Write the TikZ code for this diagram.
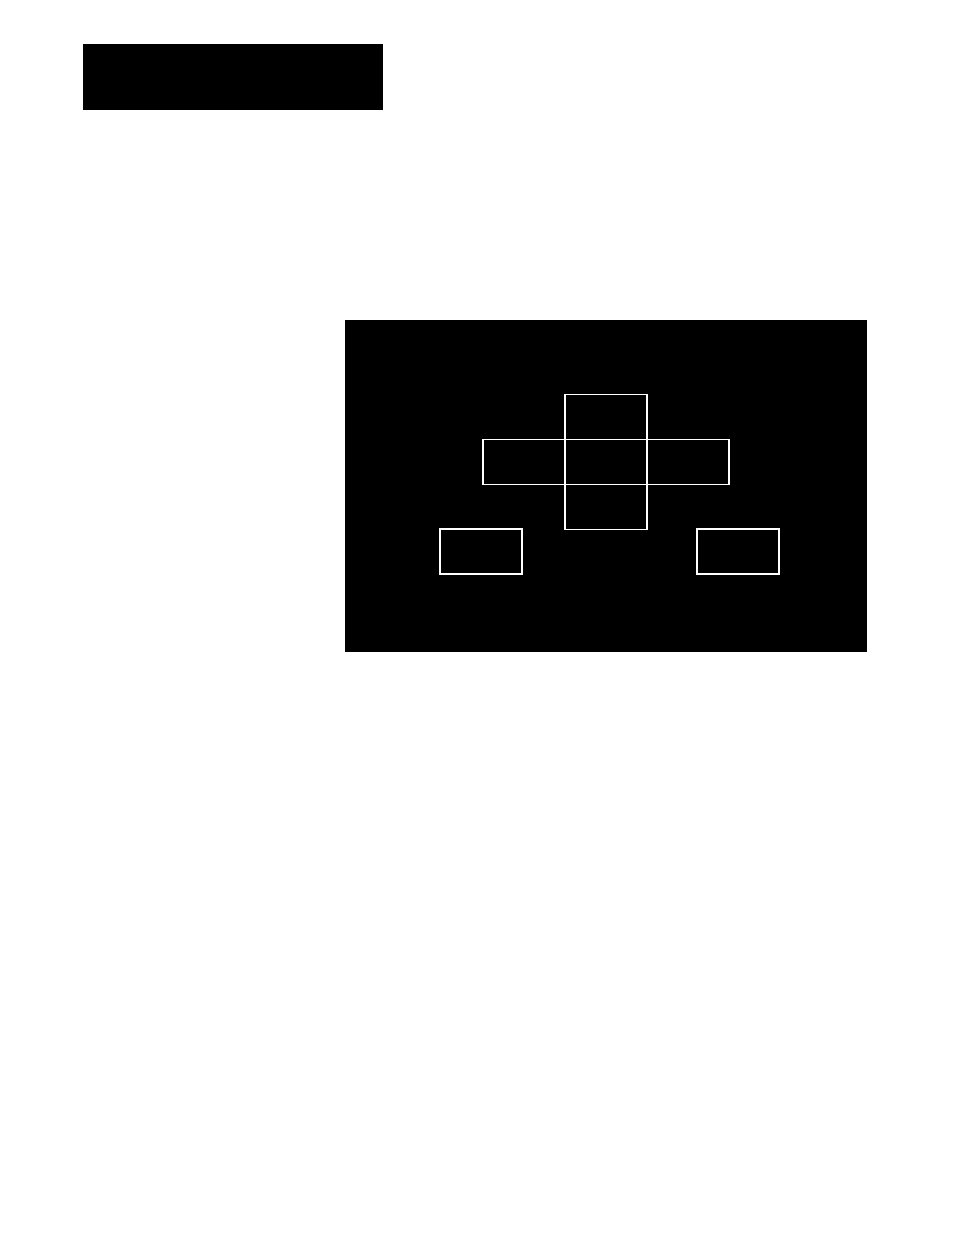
\documentclass[tikz,border=0pt]{standalone}
\usepackage{tikz}
\usetikzlibrary{positioning}
\tikzset{C/.style={draw=white, line width=1.5pt, inner sep=0pt, outer sep=0pt, minimum width=82pt, minimum height=45pt}}
\tikzset{P/.style={fill=black, draw=none}}

\begin{document}
\begin{tikzpicture}[x=1pt, y=-1pt, node distance=45pt and 82pt, on grid]
        %% Page
        \useasboundingbox[fill=white] (0,0) rectangle (954,1235);
        \fill[P] (83,44) rectangle (383,110);
        \fill[P] (345,320) rectangle (867,652);
        %% Cross
        \node[C] (mid) at (606,462) {};
        \node[C,above = of mid] (top) {};
        \node[C,below = of mid] (bot) {};
        \node[C,left = of mid] (lft) {};
        \node[C,right = of mid] (rgt) {};
        %% Lower boxes
        \node[C,below left=89.5pt and 125pt of mid] (bl) {};
        \node[C,below right=89.5pt and 132pt of mid] (br) {};
\end{tikzpicture}
\end{document}
